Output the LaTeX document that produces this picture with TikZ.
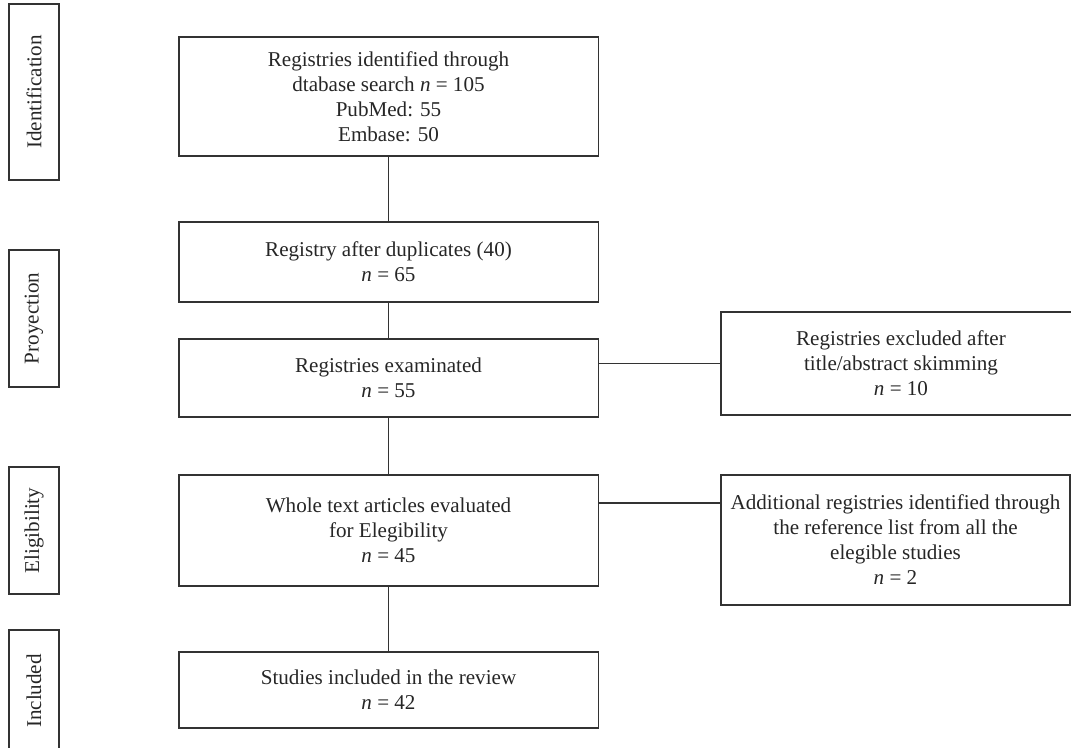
\documentclass[tikz,border=0pt]{standalone}
\usepackage{fontspec}
\setmainfont{Liberation Serif}
\usepackage{tikz}
\usetikzlibrary{positioning}

\newcommand{\nval}[1]{\textit{n}~=~#1}

\begin{document}
\begin{tikzpicture}[%
    x=0.025cm, y=-0.025cm,
    line width=0.8pt,
    every node/.style={font=\fontsize{15}{17.8}\selectfont, text=black!85},
    box/.style={draw=black!80, align=center, inner sep=0pt},
    tag/.style={draw=black!80, rotate=90, minimum height=1.25cm, inner sep=0pt},
  ]
    \useasboundingbox (0,0) rectangle (1071,748);

    % phase labels
    \node (id)  [tag, minimum width=4.4cm]   at (34,92)    {Identification};
    \node (pro) [tag, minimum width=3.425cm] at (34,318.5) {Proyection};
    \node (eli) [tag, minimum width=3.175cm] at (34,530.5) {Eligibility};
    \node (inc) [tag, minimum width=3.05cm]  at (34,691)   {Included};

    % main column
    \node (b1) [box, minimum width=10.475cm, minimum height=2.975cm] at (388.5,96.5)
        {Registries identified through\\dtabase search \nval{105}\\PubMed: 55\\Embase: 50};
    \node (b2) [box, minimum width=10.475cm, minimum height=2cm] at (388.5,262)
        {Registry after duplicates (40)\\\nval{65}};
    \node (b3) [box, minimum width=10.475cm, minimum height=1.95cm] at (388.5,378)
        {Registries examinated\\\nval{55}};
    \node (b4) [box, minimum width=10.475cm, minimum height=2.775cm] at (388.5,530.5)
        {Whole text articles evaluated\\for Elegibility\\\nval{45}};
    \node (b5) [box, minimum width=10.475cm, minimum height=1.9cm] at (388.5,690)
        {Studies included in the review\\\nval{42}};

    % side boxes
    \node (r1) [box, minimum width=9cm, minimum height=2.575cm] at (901,363.5)
        {Registries excluded after\\title/abstract skimming\\\nval{10}};
    \node (r2) [box, minimum width=8.725cm, minimum height=3.25cm] at (895.5,540)
        {Additional registries identified through\\the reference list from all the\\elegible studies\\\nval{2}};

    \coordinate (j4) at (598,503);

    \path[draw=black!80]
        (b1) edge (b2)
        (b2) edge (b3)
        (b3) edge (b4)
        (b4) edge (b5)
        (b3.east |- r1.west) edge (r1.west)
        (j4) edge (j4 -| r2.west)
        ;
\end{tikzpicture}
\end{document}
